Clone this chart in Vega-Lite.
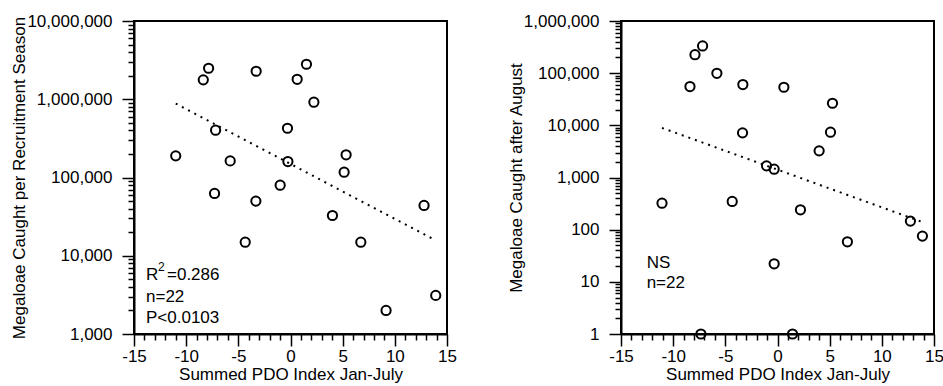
{
  "$schema": "https://vega.github.io/schema/vega-lite/v6.json",
  "padding": {"left": 9, "top": 11, "right": 0, "bottom": 0},
  "background": "white",
  "bounds": "flush",
  "spacing": 174,
  "config": {
    "view": {"stroke": "black", "strokeWidth": 2},
    "axis": {
      "domainColor": "black", "domainWidth": 2, "tickColor": "black", "tickWidth": 1.5,
      "labelFont": "Liberation Sans", "labelFontSize": 17, "labelColor": "black",
      "titleFont": "Liberation Sans", "titleFontSize": 17, "titleFontWeight": "normal", "titleColor": "black",
      "grid": false, "labelOverlap": false, "labelFlush": false, "labelBound": false
    },
    "text": {"font": "Liberation Sans", "fontSize": 17, "color": "black", "align": "left", "baseline": "alphabetic"}
  },
  "datasets": {
    "recruit": [
      {"pdo": -11.0, "catch": 189000}, {"pdo": -8.36, "catch": 1770000}, {"pdo": -7.85, "catch": 2490000},
      {"pdo": -7.18, "catch": 402000}, {"pdo": -7.28, "catch": 62500}, {"pdo": -5.78, "catch": 163000},
      {"pdo": -4.34, "catch": 14900}, {"pdo": -3.29, "catch": 2280000}, {"pdo": -3.32, "catch": 49900},
      {"pdo": -0.99, "catch": 79800}, {"pdo": -0.29, "catch": 426000}, {"pdo": -0.25, "catch": 160000},
      {"pdo": 0.64, "catch": 1800000}, {"pdo": 1.53, "catch": 2800000}, {"pdo": 2.24, "catch": 916000},
      {"pdo": 4.02, "catch": 32700}, {"pdo": 5.33, "catch": 195000}, {"pdo": 5.14, "catch": 117000},
      {"pdo": 6.74, "catch": 14900}, {"pdo": 9.16, "catch": 2000}, {"pdo": 12.8, "catch": 43900},
      {"pdo": 13.92, "catch": 3115}
    ],
    "recruitTrend": [{"pdo": -11.0, "catch": 881000}, {"pdo": 13.92, "catch": 15700}],
    "august": [
      {"pdo": -11.07, "catch": 322}, {"pdo": -8.39, "catch": 55300}, {"pdo": -7.91, "catch": 226000},
      {"pdo": -7.18, "catch": 332000}, {"pdo": -7.34, "catch": 1}, {"pdo": -5.81, "catch": 99500},
      {"pdo": -4.34, "catch": 347}, {"pdo": -3.32, "catch": 60400}, {"pdo": -3.35, "catch": 7170},
      {"pdo": -1.05, "catch": 1672}, {"pdo": -0.32, "catch": 1444}, {"pdo": -0.32, "catch": 22.2},
      {"pdo": 0.61, "catch": 53700}, {"pdo": 1.44, "catch": 1}, {"pdo": 2.2, "catch": 240},
      {"pdo": 3.99, "catch": 3240}, {"pdo": 5.27, "catch": 26500}, {"pdo": 5.08, "catch": 7380},
      {"pdo": 6.7, "catch": 58.6}, {"pdo": 12.74, "catch": 146}, {"pdo": 13.89, "catch": 75.3}
    ],
    "augustTrend": [{"pdo": -11.07, "catch": 8930}, {"pdo": 13.89, "catch": 140}],
    "leftR": [{"pdo": -13.85, "catch": 4900, "label": "R"}],
    "leftSup": [{"pdo": -13.85, "catch": 4900, "label": "2"}],
    "leftEq": [{"pdo": -13.85, "catch": 4900, "label": "=0.286"}],
    "leftStats": [{"pdo": -13.85, "catch": 2565, "label": "n=22"}, {"pdo": -13.85, "catch": 1382, "label": "P<0.0103"}],
    "rightStats": [{"pdo": -12.54, "catch": 18.7, "label": "NS"}, {"pdo": -12.54, "catch": 7.5, "label": "n=22"}]
  },
  "hconcat": [
    {
      "width": 313, "height": 313,
      "encoding": {
        "x": {"field": "pdo", "type": "quantitative",
          "scale": {"domain": [-15, 15], "nice": false, "zero": false},
          "axis": {"title": "Summed PDO Index Jan-July",
            "values": [-15,-14,-13,-12,-11,-10,-9,-8,-7,-6,-5,-4,-3,-2,-1,0,1,2,3,4,5,6,7,8,9,10,11,12,13,14,15],
            "labelExpr": "datum.value % 5 === 0 ? '' + datum.value : ''",
            "tickSize": {"condition": {"test": "datum.value % 5 === 0", "value": 12}, "value": 6},
            "labelPadding": 2, "titlePadding": 2}},
        "y": {"field": "catch", "type": "quantitative",
          "scale": {"type": "log", "domain": [1000, 10000000], "nice": false},
          "axis": {"title": "Megaloae Caught per Recruitment Season",
            "values": [1000,2000,3000,4000,5000,6000,7000,8000,9000,10000,20000,30000,40000,50000,60000,70000,80000,90000,100000,200000,300000,400000,500000,600000,700000,800000,900000,1000000,2000000,3000000,4000000,5000000,6000000,7000000,8000000,9000000,10000000],
            "labelExpr": "abs(log(datum.value)/LN10 - round(log(datum.value)/LN10)) < 1e-6 ? format(datum.value, ',') : ''",
            "tickSize": {"condition": {"test": "abs(log(datum.value)/LN10 - round(log(datum.value)/LN10)) < 1e-6", "value": 12}, "value": 6},
            "labelPadding": 10, "titlePadding": -2}}
      },
      "layer": [
        {"data": {"name": "recruitTrend"}, "mark": {"type": "line", "color": "black", "strokeWidth": 2, "strokeDash": [2, 5], "strokeCap": "butt"}},
        {"data": {"name": "recruit"}, "mark": {"type": "point", "shape": "circle", "filled": false, "stroke": "black", "strokeWidth": 2, "size": 85, "opacity": 1}},
        {"data": {"name": "leftR"}, "mark": {"type": "text"}, "encoding": {"text": {"field": "label"}}},
        {"data": {"name": "leftSup"}, "mark": {"type": "text", "fontSize": 12, "dx": 12, "dy": -9}, "encoding": {"text": {"field": "label"}}},
        {"data": {"name": "leftEq"}, "mark": {"type": "text", "dx": 21}, "encoding": {"text": {"field": "label"}}},
        {"data": {"name": "leftStats"}, "mark": {"type": "text"}, "encoding": {"text": {"field": "label"}}}
      ]
    },
    {
      "width": 313, "height": 313,
      "encoding": {
        "x": {"field": "pdo", "type": "quantitative",
          "scale": {"domain": [-15, 15], "nice": false, "zero": false},
          "axis": {"title": "Summed PDO Index Jan-July",
            "values": [-15,-14,-13,-12,-11,-10,-9,-8,-7,-6,-5,-4,-3,-2,-1,0,1,2,3,4,5,6,7,8,9,10,11,12,13,14,15],
            "labelExpr": "datum.value % 5 === 0 ? '' + datum.value : ''",
            "tickSize": {"condition": {"test": "datum.value % 5 === 0", "value": 12}, "value": 6},
            "labelPadding": 2, "titlePadding": 2}},
        "y": {"field": "catch", "type": "quantitative",
          "scale": {"type": "log", "domain": [1, 1000000], "nice": false},
          "axis": {"title": "Megaloae Caught after August",
            "values": [1,2,3,4,5,6,7,8,9,10,20,30,40,50,60,70,80,90,100,200,300,400,500,600,700,800,900,1000,2000,3000,4000,5000,6000,7000,8000,9000,10000,20000,30000,40000,50000,60000,70000,80000,90000,100000,200000,300000,400000,500000,600000,700000,800000,900000,1000000],
            "labelExpr": "abs(log(datum.value)/LN10 - round(log(datum.value)/LN10)) < 1e-6 ? format(datum.value, ',') : ''",
            "tickSize": {"condition": {"test": "abs(log(datum.value)/LN10 - round(log(datum.value)/LN10)) < 1e-6", "value": 12}, "value": 6},
            "labelPadding": 10, "titlePadding": -2}}
      },
      "layer": [
        {"data": {"name": "augustTrend"}, "mark": {"type": "line", "color": "black", "strokeWidth": 2, "strokeDash": [2, 5], "strokeCap": "butt"}},
        {"data": {"name": "august"}, "mark": {"type": "point", "shape": "circle", "filled": false, "stroke": "black", "strokeWidth": 2, "size": 85, "opacity": 1}},
        {"data": {"name": "rightStats"}, "mark": {"type": "text"}, "encoding": {"text": {"field": "label"}}}
      ]
    }
  ]
}
